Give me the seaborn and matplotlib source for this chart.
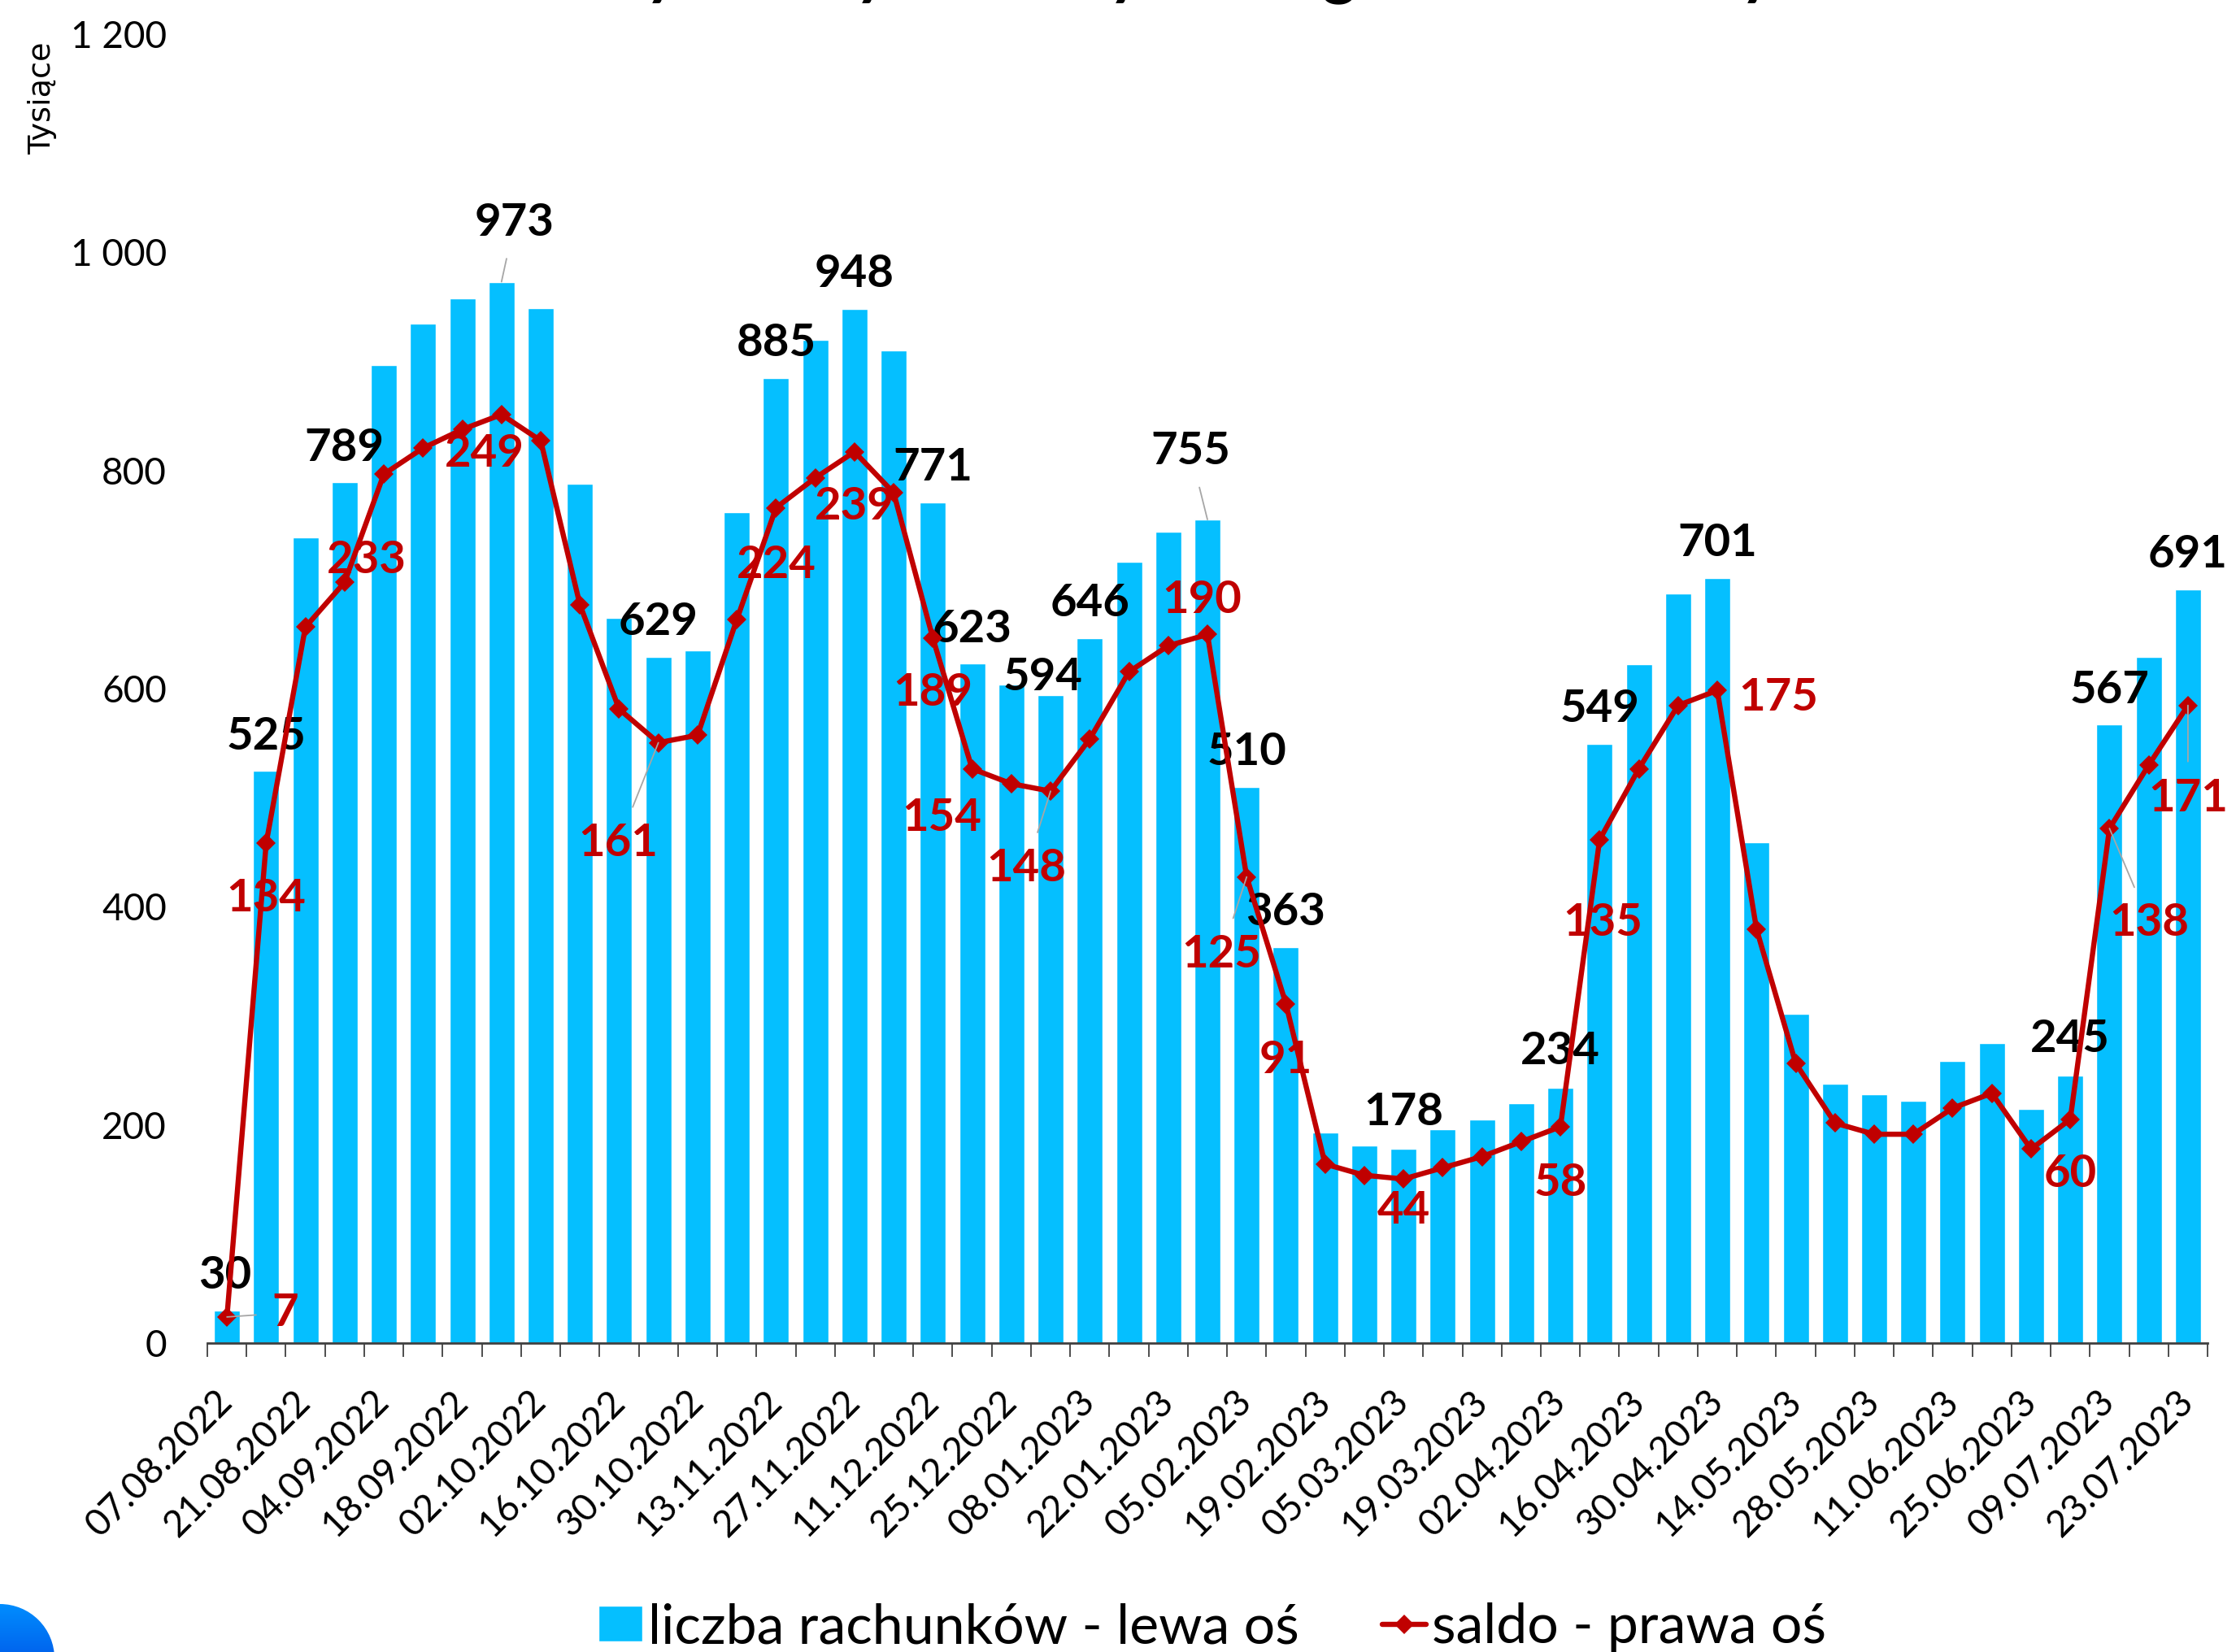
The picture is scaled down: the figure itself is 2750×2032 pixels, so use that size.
import numpy as np
import pandas as pd
import seaborn as sns
import matplotlib
matplotlib.use("Agg")
import matplotlib.pyplot as plt
from matplotlib.patches import Circle

# weekly dates, only every second one is shown on the axis
dates = [
    "07.08.2022", "14.08.2022", "21.08.2022", "28.08.2022", "04.09.2022", "11.09.2022", "18.09.2022",
    "25.09.2022", "02.10.2022", "09.10.2022", "16.10.2022", "23.10.2022", "30.10.2022", "06.11.2022",
    "13.11.2022", "20.11.2022", "27.11.2022", "04.12.2022", "11.12.2022", "18.12.2022", "25.12.2022",
    "01.01.2023", "08.01.2023", "15.01.2023", "22.01.2023", "29.01.2023", "05.02.2023", "12.02.2023",
    "19.02.2023", "26.02.2023", "05.03.2023", "12.03.2023", "19.03.2023", "26.03.2023", "02.04.2023",
    "09.04.2023", "16.04.2023", "23.04.2023", "30.04.2023", "07.05.2023", "14.05.2023", "21.05.2023",
    "28.05.2023", "04.06.2023", "11.06.2023", "18.06.2023", "25.06.2023", "02.07.2023", "09.07.2023",
    "16.07.2023", "23.07.2023",
]
accounts = [
    30, 525, 739, 789, 897, 935, 958, 973, 949, 788, 665, 629, 635, 762, 885, 920, 948,
    910, 771, 623, 604, 594, 646, 716, 744, 755, 510, 363, 193, 181, 178, 196, 205, 220,
    234, 549, 622, 687, 701, 459, 302, 238, 228, 222, 259, 275, 215, 245, 567, 629, 691,
]
saldo = [
    7, 134, 192, 204, 233, 240, 245, 249, 242, 198, 170, 161, 163, 194, 224, 232, 239,
    228, 189, 154, 150, 148, 162, 180, 187, 190, 125, 91, 48, 45, 44, 47, 50, 54,
    58, 135, 154, 171, 175, 111, 75, 59, 56, 56, 63, 67, 52, 60, 138, 155, 171,
]
y_ticks = [0, 200, 400, 600, 800, 1000, 1200]
y_tick_labels = ["0", "200", "400", "600", "800", "1 000", "1 200"]

# which points carry a label
black_idx = [0, 1, 3, 7, 11, 14, 16, 18, 19, 21, 22, 25, 26, 27, 30, 34, 35, 38, 47, 48, 50]
red_idx = [0, 1, 4, 7, 11, 14, 16, 18, 19, 21, 25, 26, 27, 30, 34, 35, 38, 47, 48, 50]

# label offsets from the point, in px of the full image (x right, y up)
black_offsets = {
    0: (-2, 47), 1: (0, 46), 3: (0, 46), 7: (16, 77), 11: (0, 47), 14: (0, 47), 16: (0, 47),
    18: (0, 47), 19: (0, 46), 21: (-10, 26), 22: (0, 47), 25: (-21, 88), 26: (0, 47), 27: (0, 47),
    30: (0, 49), 34: (0, 49), 35: (0, 47), 38: (0, 47), 47: (0, 49), 48: (0, 46), 50: (0, 47),
}
red_offsets = {
    0: (72, 9), 1: (0, -64), 4: (-21, -102), 7: (-21, -44), 11: (-49, -119), 14: (0, -66), 16: (0, -63),
    18: (0, -63), 19: (-37, -56), 21: (-30, -91), 25: (-7, 46), 26: (-31, -91), 27: (0, -65),
    30: (0, -35), 34: (0, -65), 35: (4, -98), 38: (75, -5), 47: (0, -63), 48: (49, -112), 50: (0, -110),
}
black_leaders = [7, 25]
red_leaders = [0, 11, 21, 26, 48, 50]

W, H = 2750, 2032
BAR_COLOR = "#05BFFF"
RED = "#C00000"
px = 0.72  # px -> pt at dpi 100

df = pd.DataFrame({"data": dates, "pos": range(len(dates)), "rachunki": accounts, "saldo": saldo})

sns.set_theme(style="white")
plt.rcParams["font.family"] = ["Lato", "DejaVu Sans"]

fig = plt.figure(figsize=(W / 100, H / 100), dpi=100)
ax = fig.add_axes([255 / W, 1 - 1652 / H, 2460 / W, 1610 / H])

sns.barplot(data=df, x="data", y="rachunki", color=BAR_COLOR, saturation=1, width=0.664,
            label="liczba rachunków - lewa oś", ax=ax)
ax.set_ylim(0, 1200)
ax.set_xlim(-0.5, len(dates) - 0.5)
ax.set_xlabel("")
ax.set_ylabel("")
h1, l1 = ax.get_legend_handles_labels()
ax.get_legend().remove()

ax2 = ax.twinx()
sns.lineplot(data=df, x="pos", y="saldo", color=RED, linewidth=4.6, marker="D", markersize=12.5,
             markeredgewidth=0, sort=False, errorbar=None, label="saldo - prawa oś", ax=ax2, legend=False)
ax2.set_ylim(0, 351)
ax2.set_ylabel("")
ax2.set_xlim(-0.5, len(dates) - 0.5)
ax2.set_yticks([])
for s in ax2.spines.values():
    s.set_visible(False)

for name in ["left", "right", "top"]:
    ax.spines[name].set_visible(False)
ax.spines["bottom"].set_linewidth(2)
ax.spines["bottom"].set_color("#404040")

ax.set_yticks(y_ticks, y_tick_labels)
ax.tick_params(axis="y", length=0, pad=36, labelsize=33, labelcolor="black")

# tick marks between the bars, labels under every second bar
ax.set_xticks(np.arange(len(dates) + 1) - 0.5, [""] * (len(dates) + 1))
ax.set_xticks(df["pos"].values[::2], dates[::2], minor=True)
ax.tick_params(axis="x", which="major", bottom=True, length=12, width=1.3, color="#404040")
ax.tick_params(axis="x", which="minor", bottom=True, length=0, pad=47, labelsize=33, labelcolor="black")
for lab in ax.get_xticklabels(minor=True):
    lab.set_rotation(45)
    lab.set_ha("right")
    lab.set_va("center")
    lab.set_rotation_mode("anchor")


def add_label(axis, i, val, offset, color, leader):
    props = None
    if leader:
        props = dict(arrowstyle="-", color="#A6A6A6", lw=1.3, shrinkA=12, shrinkB=0)
    axis.annotate(str(val), xy=(i, val), xytext=(offset[0] * px, (offset[1] - 4) * px), textcoords="offset points",
                  ha="center", va="center", fontsize=40.5, fontweight="bold", color=color, arrowprops=props)


for i in black_idx:
    add_label(ax, i, accounts[i], black_offsets[i], "black", i in black_leaders)
for i in red_idx:
    add_label(ax2, i, saldo[i], red_offsets[i], RED, i in red_leaders)

fig.text(52 / W, 1 - 121 / H, "Tysiące", rotation=90, ha="center", va="center", fontsize=27.5,
         family="DejaVu Sans", color="black")

# what is left of the cropped title: only the descenders reach into the picture
for x, ch in zip([814, 1072, 1384, 1647, 2161], ["y", "y", "y", "g", "y"]):
    fig.text(x / W, 1 + 10 / H, ch, ha="center", va="baseline", fontsize=58, fontweight="bold", color="black")

# legend
line_h = ax2.get_lines()[0]
fig.legend(h1 + [line_h], l1 + ["saldo - prawa oś"], loc="center", bbox_to_anchor=(1491 / W, 1 - 2002 / H),
           ncol=2, frameon=False, fontsize=49, handlelength=0.8, handleheight=0.62, handletextpad=0.1,
           columnspacing=1.5, borderpad=0, borderaxespad=0, labelcolor="black")

# blue logo circle cut by the lower left corner
bg = fig.add_axes([0, 0, 1, 1], zorder=-1)
bg.set_xlim(0, W)
bg.set_ylim(H, 0)
bg.axis("off")
grad = np.linspace(0, 1, 64).reshape(-1, 1)
cmap = matplotlib.colors.LinearSegmentedColormap.from_list("logo", ["#008FFF", "#0066EE"])
im = bg.imshow(grad, extent=(0, 70, H, 1970), cmap=cmap, aspect="auto")
bg.set_xlim(0, W)
bg.set_ylim(H, 0)
im.set_clip_path(Circle((0, 2040), 67, transform=bg.transData))

fig.savefig("out.png", dpi=100)
